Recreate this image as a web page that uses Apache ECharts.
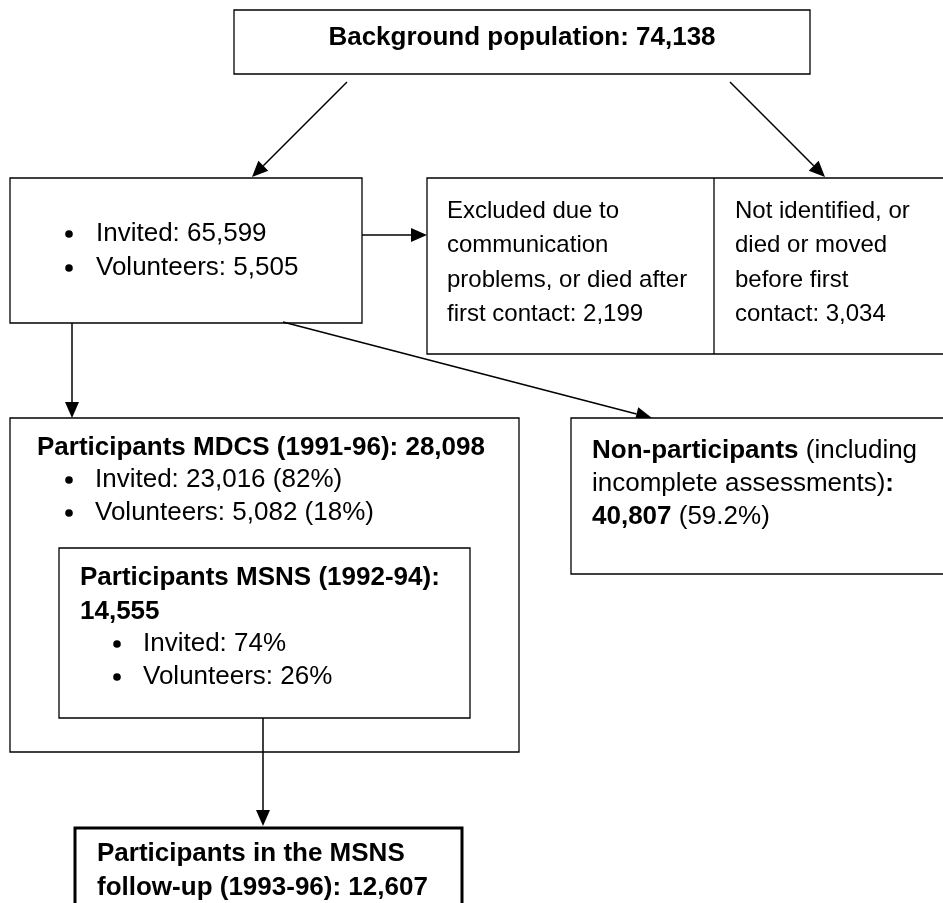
<!DOCTYPE html>
<html>
<head>
<meta charset="utf-8">
<script src="https://cdn.jsdelivr.net/npm/echarts@6/dist/echarts.min.js"></script>
<style>
    html, body {margin: 0; padding: 0; background: #fff;}
    #main {width: 943px; height: 903px;}
</style>
</head>
<body>
<div id="main"></div>
<script>
// flow chart values
var backgroundTotal = 74138;
var stageLabels = ['Invited', 'Volunteers'];
var firstStageCounts = [65599, 5505];
var excludedCounts = [2199, 3034];
var mdcsTotal = 28098;
var mdcsCounts = [23016, 5082];
var mdcsPercents = [82, 18];
var msnsTotal = 14555;
var msnsPercents = [74, 26];
var nonParticipants = 40807;
var nonParticipantsPercent = 59.2;
var followUpTotal = 12607;

function fmt(n) {
    return n.toLocaleString('en-US');
}

var FONT = '"Liberation Sans", Arial, sans-serif';
var FS = 26;
var LH = 34;

function box(x, y, w, h, lw) {
    return {
        type: 'rect',
        shape: {x: x, y: y, width: w, height: h},
        style: {fill: '#fff', stroke: '#000', lineWidth: lw || 1.3}
    };
}

function txt(x, y, s, bold, size) {
    var fs = size || FS;
    return {
        type: 'text',
        x: x, y: y,
        style: {
            text: s,
            fill: '#000',
            font: (bold ? 'bold ' : '') + fs + 'px ' + FONT,
            verticalAlign: 'middle',
            rich: {
                b: {fontWeight: 'bold', fontSize: fs, fontFamily: FONT, fill: '#000'}
            }
        }
    };
}

// round bullet + text
function bullet(x, y, tx, s) {
    return [
        {type: 'circle', shape: {cx: x, cy: y, r: 3.8}, style: {fill: '#000'}},
        txt(tx, y, s)
    ];
}

function arrow(x1, y1, x2, y2) {
    var dx = x2 - x1, dy = y2 - y1;
    var len = Math.sqrt(dx * dx + dy * dy);
    var ux = dx / len, uy = dy / len;
    var hl = 16, hw = 7;
    var bx = x2 - ux * hl, by = y2 - uy * hl;
    return [
        {
            type: 'line',
            shape: {x1: x1, y1: y1, x2: bx, y2: by},
            style: {stroke: '#000', lineWidth: 1.5}
        },
        {
            type: 'polygon',
            shape: {points: [[x2, y2], [bx - uy * hw, by + ux * hw], [bx + uy * hw, by - ux * hw]]},
            style: {fill: '#000'}
        }
    ];
}

var els = [];

// top box
els.push(box(234, 10, 576, 64));
els.push({
    type: 'text', x: 522, y: 38,
    style: {
        text: 'Background population: ' + fmt(backgroundTotal),
        fill: '#000', font: 'bold ' + FS + 'px ' + FONT,
        align: 'center', verticalAlign: 'middle'
    }
});
els = els.concat(arrow(347, 82, 252, 177));
els = els.concat(arrow(730, 82, 825, 177));

// invited / volunteers
els.push(box(10, 178, 352, 145));
els = els.concat(bullet(69, 234, 96, stageLabels[0] + ': ' + fmt(firstStageCounts[0])));
els = els.concat(bullet(69, 268, 96, stageLabels[1] + ': ' + fmt(firstStageCounts[1])));
els = els.concat(arrow(362, 235, 427, 235));

// excluded
els.push(box(427, 178, 530, 176));
els.push({
    type: 'line', shape: {x1: 714, y1: 178, x2: 714, y2: 354},
    style: {stroke: '#000', lineWidth: 1.3}
});
var exA = ['Excluded due to', 'communication', 'problems, or died after', 'first contact: ' + fmt(excludedCounts[0])];
var exB = ['Not identified, or', 'died or moved', 'before first', 'contact: ' + fmt(excludedCounts[1])];
exA.forEach(function (s, i) {
    els.push(txt(447, 211 + i * 34.5, s, false, 24));
});
exB.forEach(function (s, i) {
    els.push(txt(735, 211 + i * 34.5, s, false, 24));
});

els = els.concat(arrow(72, 323, 72, 418));
els = els.concat(arrow(283, 322, 652, 418));

// MDCS
els.push(box(10, 418, 509, 334));
els.push(txt(37, 448, 'Participants MDCS (1991-96): ' + fmt(mdcsTotal), true));
els = els.concat(bullet(69, 480, 95, stageLabels[0] + ': ' + fmt(mdcsCounts[0]) + ' (' + mdcsPercents[0] + '%)'));
els = els.concat(bullet(69, 513, 95, stageLabels[1] + ': ' + fmt(mdcsCounts[1]) + ' (' + mdcsPercents[1] + '%)'));

// MSNS inner
els.push(box(59, 548, 411, 170));
els.push(txt(80, 578, 'Participants MSNS (1992-94):', true));
els.push(txt(80, 612, fmt(msnsTotal), true));
els = els.concat(bullet(117, 644, 143, stageLabels[0] + ': ' + msnsPercents[0] + '%'));
els = els.concat(bullet(117, 677, 143, stageLabels[1] + ': ' + msnsPercents[1] + '%'));
els = els.concat(arrow(263, 718, 263, 826));

// non-participants
els.push(box(571, 418, 400, 156));
els.push(txt(592, 451, '{b|Non-participants} (including'));
els.push(txt(592, 484, 'incomplete assessments){b|:}'));
els.push(txt(592, 517, '{b|' + fmt(nonParticipants) + '} (' + nonParticipantsPercent + '%)'));

// follow-up
els.push(box(75, 828, 387, 100, 3));
els.push(txt(97, 854, 'Participants in the MSNS', true));
els.push(txt(97, 888, 'follow-up (1993-96): ' + fmt(followUpTotal), true));

var chart = echarts.init(document.getElementById('main'));
chart.setOption({
    backgroundColor: '#fff',
    animation: false,
    graphic: {elements: els}
});
</script>
</body>
</html>
